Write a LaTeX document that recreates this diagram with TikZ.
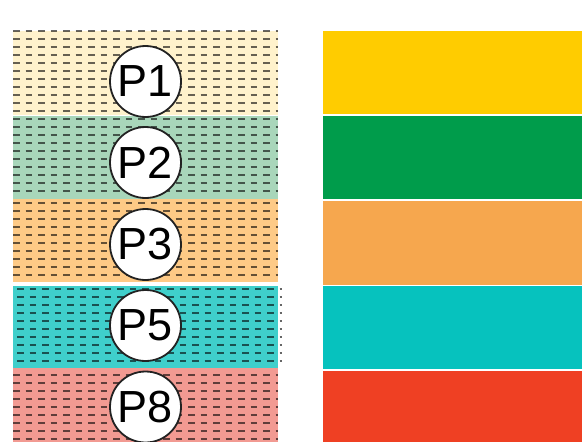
\documentclass[tikz,border=0pt]{standalone}
\usepackage{fontspec}
\setmainfont{Liberation Sans}
\definecolor{bgA}{HTML}{FFF2CC}
\definecolor{bgB}{HTML}{A8D6BA}
\definecolor{bgC}{HTML}{FECA86}
\definecolor{bgD}{HTML}{3FCFCB}
\definecolor{bgE}{HTML}{F29A92}
\definecolor{swA}{HTML}{FFCC00}
\definecolor{swB}{HTML}{009C4B}
\definecolor{swC}{HTML}{F6A74E}
\definecolor{swD}{HTML}{06C2BE}
\definecolor{swE}{HTML}{EF4023}
\definecolor{ringc}{HTML}{222222}
\begin{document}
\begin{tikzpicture}[x=1pt,y=-1pt,
  hatch/.style={draw=black,draw opacity=0.6,line width=1.1pt,dash pattern=on 6.5pt off 6pt},
  pcirc/.style={circle,draw=ringc,line width=1.8pt,fill=white,minimum size=71pt,inner sep=0pt,
    font=\fontsize{45}{45}\selectfont}]
\useasboundingbox (0,0) rectangle (584,442);
% left bands
\fill[bgA] (13,31) rectangle (278,115);
\fill[bgB] (13,116) rectangle (278,199);
\fill[bgC] (13,199) rectangle (278,282);
\fill[bgD] (13,286) rectangle (278,368);
\fill[bgE] (13,368) rectangle (278,442);
% hatch lines
\foreach \y in {31,39,...,111} \draw[hatch] (13,\y) -- (278,\y);
\foreach \y in {119,127,...,197} \draw[hatch] (13,\y) -- (278,\y);
\foreach \y in {203,211,...,281} \draw[hatch] (13,\y) -- (278,\y);
\foreach \y in {289,297,...,367} \draw[hatch] (17,\y) -- (282,\y);
\foreach \y in {375,383,...,439} \draw[hatch] (13,\y) -- (278,\y);
% circles
\node[pcirc] (p1) at (145.5,81.5) {P1};
\node[pcirc] (p2) at (145.5,162.5) {P2};
\node[pcirc] (p3) at (145.5,244.5) {P3};
\node[pcirc] (p5) at (145.5,325.5) {P5};
\node[pcirc] (p8) at (145.5,407) {P8};
% right swatches
\fill[swA] (323,31) rectangle (582,114);
\fill[swB] (323,116) rectangle (582,199);
\fill[swC] (323,201) rectangle (582,285);
\fill[swD] (323,286) rectangle (582,369);
\fill[swE] (323,371) rectangle (582,442);
\end{tikzpicture}
\end{document}
